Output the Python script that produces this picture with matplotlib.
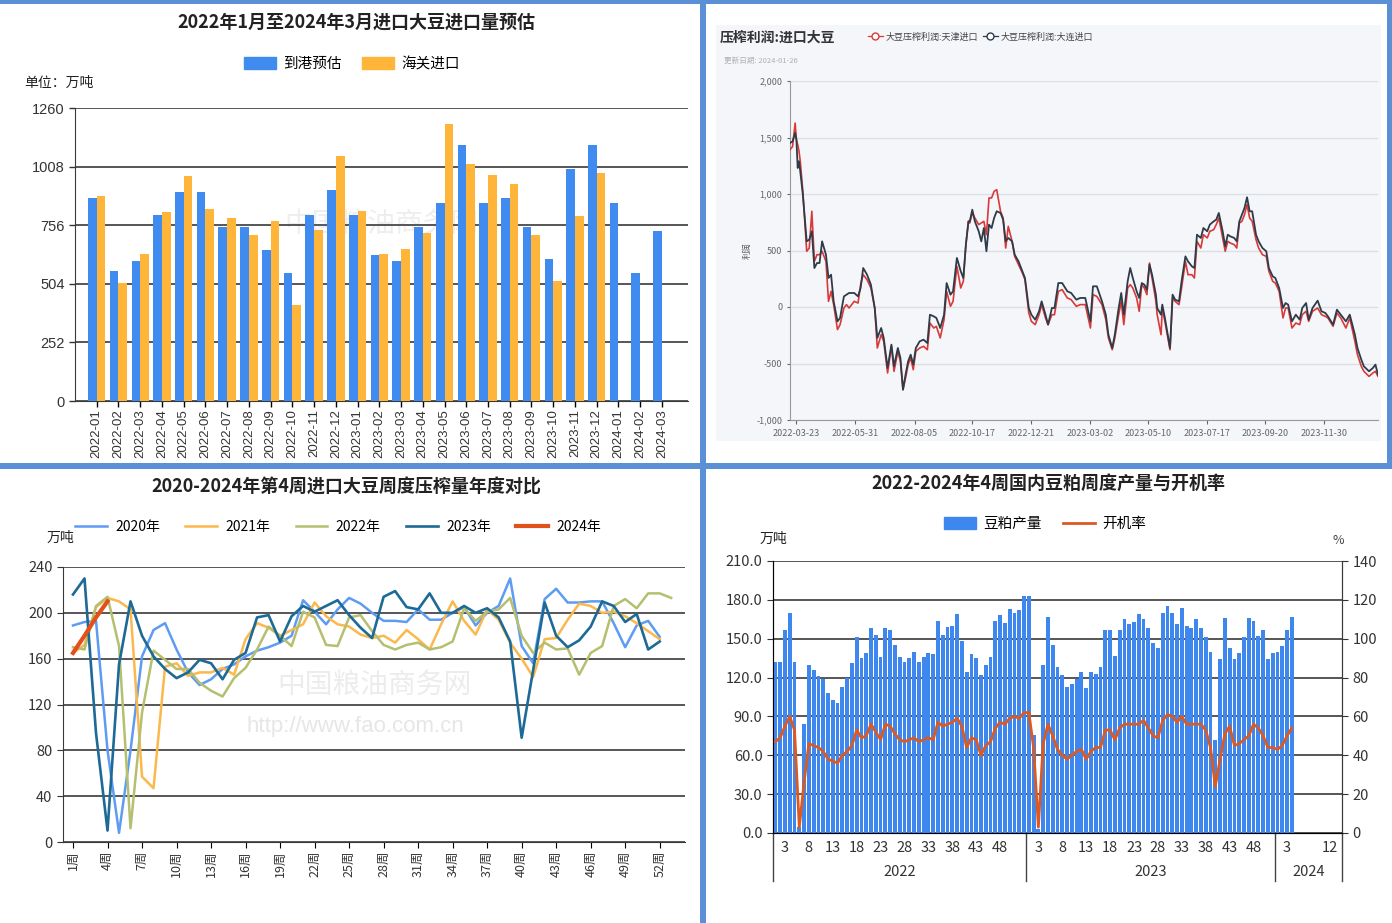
import numpy as np
import matplotlib
matplotlib.use("Agg")
import matplotlib.pyplot as plt
from matplotlib.patches import Rectangle, Patch
from matplotlib.lines import Line2D
import matplotlib.ticker as mticker

plt.rcParams['font.family'] = ['Noto Sans CJK SC', 'DejaVu Sans']
plt.rcParams['axes.unicode_minus'] = False

# ---------------- Panel 1 data: monthly soybean imports ----------------
months = ['2022-01', '2022-02', '2022-03', '2022-04', '2022-05', '2022-06', '2022-07', '2022-08',
          '2022-09', '2022-10', '2022-11', '2022-12', '2023-01', '2023-02', '2023-03', '2023-04',
          '2023-05', '2023-06', '2023-07', '2023-08', '2023-09', '2023-10', '2023-11', '2023-12',
          '2024-01', '2024-02', '2024-03']
arrival_est = [872, 561, 602, 799, 898, 898, 748, 748, 648, 549, 799, 909, 799, 626, 602, 748,
               852, 1101, 852, 872, 748, 610, 997, 1101, 852, 549, 731]
customs_imp = [882, 509, 632, 811, 967, 825, 789, 715, 772, 413, 736, 1055, 815, 632, 653, 721,
               1190, 1018, 973, 935, 715, 518, 794, 981, np.nan, np.nan, np.nan]
p1_yticks = [0, 252, 504, 756, 1008, 1260]

# ---------------- Panel 2 data: crush margin (trading-day index, value) ----------------
margin_day = [0, 2, 4, 5, 6, 7, 8, 10, 13, 15, 17, 19, 21, 23, 25, 28, 30, 32, 34, 37, 39, 42, 44, 46,
              50, 53, 55, 57, 60, 63, 66, 68, 71, 73, 76, 79, 81, 84, 86, 88, 90, 92, 94, 96, 98,
              101, 104, 107, 109, 112, 114, 117, 120, 122, 125, 127, 130, 133, 135, 137, 139, 140,
              142, 144, 147, 149, 151, 153, 155, 157, 159, 161, 164, 166, 168, 170, 173, 175, 178,
              181, 183, 186, 188, 191, 194, 196, 199, 201, 204, 206, 209, 212, 216, 219, 223, 226,
              230, 234, 236, 239, 243, 246, 248, 251, 253, 256, 258, 260, 263, 265, 267, 270, 272,
              274, 276, 278, 280, 282, 285, 286, 289, 290, 292, 296, 298, 300, 303, 305, 308, 310,
              313, 315, 317, 320, 322, 325, 327, 330, 332, 334, 337, 339, 341, 343, 346, 348, 350,
              352, 354, 356, 358, 360, 363, 365, 368, 371, 373, 376, 378, 381, 384, 386, 388, 391,
              394, 397, 399, 402, 404, 407, 411, 414, 417, 419, 423, 426, 429, 433, 436, 440, 442,
              445, 447, 451, 454, 456, 458]
margin_dalian = [1451, 1466, 1540, 1481, 1230, 1290, 1200, 994, 581, 596, 670, 345, 389, 389, 581, 463,
                 257, 286, 50, -127, -97, 94, 109, 124, 124, 94, 168, 345, 286, 198, -9, -274, -186,
                 -274, -540, -333, -525, -363, -451, -732, -599, -481, -422, -510, -363, -304, -289,
                 -319, -68, -83, -97, -186, -68, 212, 109, 139, 434, 316, 257, 552, 758, 758, 861,
                 758, 670, 581, 699, 493, 729, 699, 788, 847, 832, 773, 581, 611, 581, 463, 404, 316,
                 257, -9, -68, -112, -38, 50, -68, -156, -9, -9, 212, 212, 139, 124, 65, 80, 80,
                 -127, 183, 183, 50, -68, -245, -363, -245, -9, 124, -68, 227, 345, 257, 139, 80,
                 212, 198, 153, 375, 286, 109, -9, -68, 21, -97, -363, 109, 65, 50, 227, 448, 404,
                 360, 345, 640, 611, 699, 670, 729, 758, 773, 832, 670, 537, 640, 625, 611, 581, 758,
                 817, 876, 971, 847, 847, 640, 581, 522, 493, 345, 271, 257, 168, -9, 35, 21, -127,
                 -68, -112, -9, 35, -112, -9, 56, -38, -53, -83, -156, -24, -68, -127, -68, -245,
                 -363, -466, -525, -569, -540, -510, -599]
margin_tianjin = [1392, 1420, 1628, 1480, 1437, 1380, 1290, 1024, 493, 522, 847, 404, 463, 463, 493, 404,
                  50, 139, 21, -200, -156, -9, 21, -9, 50, 35, 198, 286, 242, 168, -9, -363, -245,
                  -304, -584, -348, -570, -392, -481, -732, -628, -510, -451, -555, -392, -363, -348,
                  -378, -142, -186, -171, -274, -112, 139, 6, 50, 360, 168, 227, 552, 758, 743, 832,
                  788, 729, 743, 758, 640, 965, 965, 1024, 1038, 847, 788, 522, 714, 581, 448, 375,
                  301, 242, -53, -127, -156, -68, 21, -97, -156, -68, -68, 139, 153, 80, 65, 6, 21,
                  21, -186, 109, 94, 21, -112, -274, -378, -274, -68, 50, -156, 168, 198, 168, 80,
                  -38, 198, 168, 109, 389, 257, 50, -68, -245, -9, -127, -378, 80, 50, 21, 168, 404,
                  286, 286, 257, 581, 522, 640, 611, 670, 684, 729, 788, 611, 493, 581, 566, 552, 522,
                  743, 758, 817, 906, 788, 758, 596, 522, 463, 448, 316, 227, 212, 139, -97, -9, -9,
                  -186, -142, -156, -68, -38, -127, -38, -9, -68, -83, -97, -171, -53, -97, -186, -97,
                  -304, -422, -525, -569, -614, -584, -569, -614]
margin_tick_day = [5, 51, 97, 142, 188, 234, 279, 325, 370, 416]
margin_tick_lab = ['2022-03-23', '2022-05-31', '2022-08-05', '2022-10-17', '2022-12-21',
                   '2023-03-02', '2023-05-10', '2023-07-17', '2023-09-20', '2023-11-30']

# ---------------- Panel 3 data: weekly crush by year ----------------
crush_2020 = [189, 192, 193, 80, 8, 80, 162, 185, 191, 168, 148, 137, 142, 151, 155, 162, 167, 170, 174,
              180, 211, 201, 190, 203, 213, 208, 200, 193, 193, 192, 203, 194, 194, 200, 205, 189, 200,
              206, 230, 171, 156, 212, 221, 209, 209, 210, 210, 191, 170, 189, 193, 179]
crush_2021 = [165, 172, 205, 213, 210, 203, 57, 47, 153, 156, 145, 148, 148, 152, 146, 177, 191, 187, 180,
              185, 190, 209, 197, 190, 188, 181, 178, 180, 174, 185, 177, 168, 190, 210, 193, 181, 203,
              194, 174, 160, 144, 177, 178, 194, 208, 206, 200, 201, 197, 191, 184, 177]
crush_2022 = [170, 168, 206, 214, 171, 12, 113, 167, 159, 151, 151, 139, 132, 127, 143, 152, 168, 188, 180,
              171, 201, 196, 172, 171, 196, 198, 184, 172, 168, 172, 174, 168, 170, 175, 204, 193, 201,
              203, 213, 180, 165, 174, 168, 169, 146, 165, 171, 206, 212, 204, 217, 217, 213]
crush_2023 = [216, 230, 95, 10, 155, 210, 180, 162, 151, 143, 148, 159, 156, 142, 159, 165, 196, 198, 175,
              197, 206, 201, 206, 211, 198, 187, 178, 214, 219, 205, 203, 217, 200, 200, 206, 200, 204,
              196, 175, 91, 150, 209, 180, 170, 176, 188, 210, 206, 192, 199, 168, 175]
crush_2024 = [165, 180, 196, 210]
crush_years = ['2020年', '2021年', '2022年', '2023年', '2024年']

# ---------------- Panel 4 data: weekly meal output & operating rate ----------------
meal_2022 = [132, 132, 157, 170, 132, 5, 84, 130, 126, 121, 119, 108, 103, 100, 113, 120, 131, 151, 135,
             139, 158, 153, 136, 158, 157, 145, 136, 132, 135, 140, 132, 136, 139, 138, 164, 153, 159,
             160, 169, 148, 124, 138, 135, 122, 130, 136, 164, 168, 162, 173, 170, 172, 183]
meal_2023 = [183, 76, 3, 130, 167, 145, 128, 122, 113, 115, 119, 124, 112, 124, 123, 128, 157, 157, 137,
             157, 165, 161, 163, 169, 165, 158, 147, 143, 170, 175, 170, 161, 174, 160, 158, 165, 158,
             151, 140, 72, 134, 166, 143, 134, 139, 151, 166, 164, 152, 157, 134, 139]
meal_2024 = [140, 144, 157, 167] + [np.nan] * 10
rate_2022 = [47, 49, 55, 60, 53, 3, 26, 46, 45, 44, 42, 38, 37, 36, 40, 42, 45, 53, 49, 50, 56, 52, 48, 56,
             55, 51, 48, 47, 48, 49, 47, 48, 49, 48, 57, 55, 56, 57, 59, 55, 44, 49, 48, 40, 45, 47, 54,
             57, 56, 59, 60, 59, 62]
rate_2023 = [62, 44, 3, 46, 56, 50, 43, 40, 38, 40, 42, 43, 38, 42, 44, 44, 53, 53, 48, 54, 56, 56, 56, 56,
             58, 54, 50, 49, 58, 61, 60, 57, 60, 56, 56, 56, 56, 53, 44, 24, 38, 51, 55, 45, 46, 48, 50,
             56, 54, 50, 44, 44]
rate_2024 = [43, 45, 50, 54] + [np.nan] * 10
meal_week_labels = {'2022': [3, 8, 13, 18, 23, 28, 33, 38, 43, 48],
                    '2023': [3, 8, 13, 18, 23, 28, 33, 38, 43, 48],
                    '2024': [3, 12]}

# ---------------- figure ----------------
W, H = 1392, 923
fig = plt.figure(figsize=(W / 100, H / 100), dpi=100)
fig.patch.set_facecolor('white')


def ax_px(l, t, r, b, **kw):
    return fig.add_axes([l / W, 1 - b / H, (r - l) / W, (b - t) / H], **kw)


def fx(x):
    return x / W


def fy(y):
    return 1 - y / H


BORDER = '#5b8fd6'
BLUE = '#3f8bf0'
ORANGE = '#ffb43a'
GRID = '#3a3a3a'
TXT = '#333333'

# ===== Panel 1 =====
ax1 = ax_px(75, 108, 688, 401)
x1 = np.arange(len(months))
bw = 0.4
ax1.bar(x1 - bw / 2, arrival_est, width=bw, color=BLUE, zorder=3)
ax1.bar(x1 + bw / 2, customs_imp, width=bw, color=ORANGE, zorder=3)
ax1.set_ylim(0, 1260)
ax1.set_yticks(p1_yticks)
ax1.set_xlim(-1.0, len(months) + 0.2)
ax1.set_xticks(x1)
ax1.set_xticklabels(months, rotation=90, fontsize=9.5, color=TXT, family=['Liberation Sans', 'DejaVu Sans'])
ax1.tick_params(axis='y', labelsize=10.5, colors=TXT, length=4, width=1)
ax1.tick_params(axis='x', length=4, width=1, pad=2)
for lab in ax1.get_yticklabels():
    lab.set_family(['Liberation Sans Narrow', 'Liberation Sans', 'DejaVu Sans'])
ax1.grid(axis='y', color=GRID, lw=1.2, zorder=0)
for s in ['top', 'right']:
    ax1.spines[s].set_visible(False)
ax1.spines['left'].set_color(GRID)
ax1.spines['bottom'].set_color(GRID)
ax1.text(0.5, 0.6, '中国粮油商务网', transform=ax1.transAxes, fontsize=20, color='#eeeeee',
         ha='center', va='center', zorder=1)
fig.text(fx(356), fy(22), '2022年1月至2024年3月进口大豆进口量预估', ha='center', va='center',
         fontsize=13, fontweight='bold', color='#222')
fig.text(fx(24), fy(83), '单位：万吨', ha='left', va='center', fontsize=10, color='#222')
fig.legend(handles=[Patch(color=BLUE, label='到港预估'), Patch(color=ORANGE, label='海关进口')],
           loc='center', bbox_to_anchor=(fx(352), fy(64)), ncol=2, frameon=False,
           fontsize=10.5, handlelength=2.2, handleheight=0.8, columnspacing=1.4, handletextpad=0.5)

# ===== Panel 2 =====
fig.patches.append(Rectangle((fx(716), fy(441)), fx(1381) - fx(716), fy(25) - fy(441),
                             transform=fig.transFigure, facecolor='#f4f6fa', edgecolor='none', zorder=-5))
ax2 = ax_px(790, 81, 1378, 420)
ax2.set_zorder(2)
ax2.set_facecolor('#f4f6fa')
ax2.plot(margin_day, margin_tianjin, color='#d83a3a', lw=1.2, zorder=3)
ax2.plot(margin_day, margin_dalian, color='#2e3b48', lw=1.3, zorder=4)
ax2.set_ylim(-1000, 2000)
ax2.set_yticks(np.arange(-1000, 2001, 500))
ax2.yaxis.set_major_formatter(mticker.FuncFormatter(lambda v, p: f'{int(v):,}'))
ax2.set_xlim(0, 458)
ax2.set_xticks(margin_tick_day)
ax2.set_xticklabels(margin_tick_lab)
ax2.tick_params(labelsize=6.5, colors='#666', length=3, width=0.8)
ax2.tick_params(axis='y', length=2)
ax2.grid(axis='y', color='#dcdfe5', lw=1)
for s in ['top', 'right']:
    ax2.spines[s].set_visible(False)
ax2.spines['left'].set_color('#999')
ax2.spines['bottom'].set_color('#999')
ax2.set_ylabel('利润', fontsize=6, color='#555')
ax2.yaxis.set_label_coords(-0.065, 0.5)
fig.text(fx(720), fy(38), '压榨利润:进口大豆', fontsize=10, fontweight='bold', color='#333',
         ha='left', va='center')
fig.text(fx(724), fy(61), '更新日期: 2024-01-26', fontsize=5.5, color='#b0b0b0', ha='left', va='center')
h_tj = Line2D([], [], color='#d83a3a', lw=0.9, marker='o', markerfacecolor='white', markersize=5,
              label='大豆压榨利润:天津进口')
h_dl = Line2D([], [], color='#2e3b48', lw=0.9, marker='o', markerfacecolor='white', markersize=5,
              label='大豆压榨利润:大连进口')
fig.legend(handles=[h_tj, h_dl], loc='center left', bbox_to_anchor=(fx(860), fy(37)), ncol=2,
           frameon=False, fontsize=6.5, handlelength=1.6, columnspacing=0.6, handletextpad=0.3,
           labelcolor='#444')

# ===== Panel 3 =====
ax3 = ax_px(63, 567, 685, 842)
cols3 = ['#5d9cf2', '#fbb84c', '#b6bf6f', '#1d6a96', '#e2511b']
series3 = [crush_2020, crush_2021, crush_2022, crush_2023, crush_2024]
lws = [1.8, 1.8, 1.8, 1.9, 3.0]
handles3 = []
for s, c, lw, name in zip(series3, cols3, lws, crush_years):
    wk = np.arange(1, len(s) + 1)
    ax3.plot(wk, s, color=c, lw=lw, zorder=3)
    handles3.append(Line2D([], [], color=c, lw=lw, label=name))
ax3.set_ylim(0, 240)
ax3.set_yticks(np.arange(0, 241, 40))
ax3.set_xlim(0.13, 54.2)
wk_ticks = np.arange(1, 53, 3)
ax3.set_xticks(wk_ticks)
ax3.set_xticklabels([f'{w}周' for w in wk_ticks], rotation=90, fontsize=9, color=TXT)
ax3.tick_params(axis='y', labelsize=10.5, colors=TXT, length=4)
ax3.tick_params(axis='x', length=4, pad=2)
ax3.grid(axis='y', color=GRID, lw=1.2, zorder=0)
for s in ['top', 'right']:
    ax3.spines[s].set_visible(False)
ax3.spines['left'].set_color(GRID)
ax3.spines['bottom'].set_color(GRID)
ax3.text(0.5, 0.57, '中国粮油商务网', transform=ax3.transAxes, fontsize=20, color='#ececec',
         ha='center', va='center', zorder=1)
ax3.text(0.47, 0.42, 'http://www.fao.com.cn', transform=ax3.transAxes, fontsize=16, color='#e6e6e6',
         ha='center', va='center', zorder=1, family=['Liberation Sans', 'DejaVu Sans'])
fig.text(fx(346), fy(487), '2020-2024年第4周进口大豆周度压榨量年度对比', ha='center', va='center',
         fontsize=13, fontweight='bold', color='#222')
fig.text(fx(47), fy(538), '万吨', ha='left', va='center', fontsize=10, color='#222')
fig.legend(handles=handles3, loc='center', bbox_to_anchor=(fx(338), fy(527)), ncol=5, frameon=False,
           fontsize=10, handlelength=2.3, columnspacing=1.8, handletextpad=0.6)

# ===== Panel 4 =====
ax4 = ax_px(773, 561, 1342, 833)
meal_all = meal_2022 + meal_2023 + meal_2024
rate_all = rate_2022 + rate_2023 + rate_2024
n22, n23, n24 = len(meal_2022), len(meal_2023), len(meal_2024)
x4 = np.arange(len(meal_all))
ax4.bar(x4, meal_all, width=0.8, color='#3e87ef', zorder=3)
ax4.set_ylim(0, 210)
ax4.set_yticks(np.arange(0, 211, 30))
ax4.yaxis.set_major_formatter(mticker.FormatStrFormatter('%.1f'))
ax4.set_xlim(-0.5, len(meal_all) - 0.5)
ax4.grid(axis='y', color=GRID, lw=1.2, zorder=0)
ax4.tick_params(axis='y', labelsize=10.5, colors=TXT, length=4)
for s in ['top']:
    ax4.spines[s].set_visible(False)
ax4.spines['left'].set_color(GRID)
ax4.spines['bottom'].set_color(GRID)
ax4.spines['right'].set_color(GRID)
tick_pos, tick_lab = [], []
offsets = {'2022': 0, '2023': n22, '2024': n22 + n23}
for yr, wks in meal_week_labels.items():
    for w in wks:
        tick_pos.append(offsets[yr] + w - 1)
        tick_lab.append(str(w))
ax4.set_xticks(tick_pos)
ax4.set_xticklabels(tick_lab, fontsize=10.5, color=TXT)
ax4.tick_params(axis='x', length=0, pad=6)
tr = ax4.get_xaxis_transform()
for xb in [-0.5, n22 - 0.5, n22 + n23 - 0.5, len(meal_all) - 0.5]:
    ax4.plot([xb, xb], [0, -0.175], transform=tr, color='#444', lw=1, clip_on=False)
for yr, a, b in [('2022', 0, n22), ('2023', n22, n22 + n23), ('2024', n22 + n23, len(meal_all))]:
    ax4.text((a + b - 1) / 2, -0.145, yr, transform=tr, ha='center', va='center', fontsize=10.5,
             color=TXT)
ax4r = ax4.twinx()
ax4r.plot(x4, rate_all, color='#dc5a22', lw=2, zorder=4)
ax4r.set_ylim(0, 140)
ax4r.set_yticks(np.arange(0, 141, 20))
ax4r.tick_params(axis='y', labelsize=10.5, colors=TXT, length=4)
for s in ['top']:
    ax4r.spines[s].set_visible(False)
ax4r.spines['right'].set_color(GRID)
fig.text(fx(1048), fy(483), '2022-2024年4周国内豆粕周度产量与开机率', ha='center', va='center',
         fontsize=13, fontweight='bold', color='#222')
fig.text(fx(760), fy(539), '万吨', ha='left', va='center', fontsize=10, color='#222')
fig.text(fx(1338), fy(540), '%', ha='center', va='center', fontsize=9, color='#444')
fig.legend(handles=[Patch(color='#3e87ef', label='豆粕产量'),
                    Line2D([], [], color='#dc5a22', lw=2, label='开机率')],
           loc='center', bbox_to_anchor=(fx(1045), fy(524)), ncol=2, frameon=False, fontsize=10.5,
           handlelength=2.2, handleheight=0.8, columnspacing=1.4, handletextpad=0.5)

# ===== borders =====
for (l, t, r, b) in [(0, 0, 1392, 4), (0, 463, 1392, 469), (700, 0, 706, 923), (1387, 0, 1392, 463)]:
    fig.patches.append(Rectangle((fx(l), fy(b)), fx(r) - fx(l), fy(t) - fy(b), transform=fig.transFigure,
                                 facecolor=BORDER, edgecolor='none', zorder=10))

fig.savefig('out.png', dpi=100, facecolor='white')
